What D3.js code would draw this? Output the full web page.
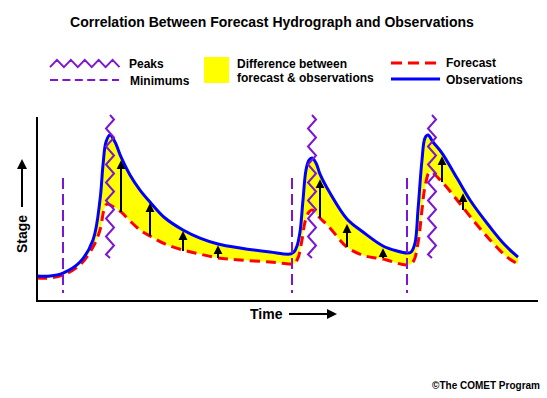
<!DOCTYPE html>
<html><head><meta charset="utf-8">
<script src="https://cdn.jsdelivr.net/npm/d3@7"></script>
<style>body{margin:0;background:#fff}svg{display:block}text{font-family:"Liberation Sans",Arial,sans-serif;font-weight:bold;fill:#000}</style>
</head><body>
<svg id="c" width="547" height="398"></svg>
<script>
// Observations (time, stage)
const obsTime  = [0,2.6,5.2,8.6,11.2,12.6,13.2,13.8,14.6,15.6,16.8,18.6,20.6,22.6,25.6,29.2,32.6,36.2,40.6,46.6,50.6,51.4,52,52.6,53.2,53.8,54.4,55,55.8,56.6,58.6,62,65.2,69.2,72,74,74.8,75.6,76.2,77,77.6,78.2,79.2,81,84,86.6,90.6,93.6,96.2];
const obsStage = [1.36,1.36,1.52,2.12,3.32,5.49,7.39,8.64,9.02,8.64,7.83,6.85,6.03,5.38,4.51,3.86,3.42,3.10,2.88,2.66,2.55,2.66,2.99,3.75,5.49,7.12,7.66,7.77,7.50,6.90,5.87,4.46,3.75,2.99,2.72,2.61,2.66,3.15,4.95,7.66,8.86,9.02,8.64,8.04,6.68,5.49,4.02,3.04,2.39];
// Forecast (time, stage)
const fcTime  = [0,2.6,5.2,8.6,11.2,12.6,13.4,14,15,16.8,18.6,20.6,22.6,25.6,29.2,32.6,36.2,40.6,46.6,50.6,51.4,52.2,53,53.6,54.4,55,56.6,58.6,62,65.6,69.2,74,75.2,76.2,77,77.6,78.6,81,84,87.2,90.6,94,96.2];
const fcStage = [1.25,1.25,1.41,1.96,2.93,3.86,4.95,5.27,5.16,4.84,4.35,3.86,3.53,3.10,2.77,2.55,2.34,2.23,2.12,2.01,2.01,2.34,3.32,4.29,4.84,4.95,4.51,3.97,2.93,2.45,2.28,1.96,2.12,3.15,4.95,6.20,7.01,6.47,5.49,4.40,3.32,2.39,2.01];
// Peaks (zigzag markers) and minimums (dashed markers)
const peakTimes = [14.6, 55, 79];
const peakRange = [2.34, 10.11];
const minTimes = [5.2, 51, 74];
const minRange = [0.43, 6.68];
// Difference arrows
const arrowTime = [16.8, 22.6, 29.2, 36.2, 56.6, 62, 69.2, 81, 85.2];
const arrowFrom = [4.84, 3.53, 2.72, 2.34, 4.51, 2.93, 2.34, 6.47, 4.95];
const arrowTo   = [7.55, 5.22, 3.70, 2.93, 6.52, 4.08, 2.77, 7.77, 5.76];

const svg = d3.select("#c");
const x = d3.scaleLinear().domain([0,100]).range([37,537]);
const y = d3.scaleLinear().domain([0,10]).range([301,117]);
const PURPLE = "#7d16d4";

const defs = svg.append("defs");
defs.append("marker").attr("id","ah").attr("viewBox","0 0 10 10").attr("refX",8).attr("refY",5)
  .attr("markerWidth",4.6).attr("markerHeight",4.6).attr("orient","auto")
  .append("path").attr("d","M0,0L10,5L0,10Z").attr("fill","#000");
defs.append("marker").attr("id","ah2").attr("viewBox","0 0 10 10").attr("refX",8).attr("refY",5)
  .attr("markerWidth",5).attr("markerHeight",5).attr("orient","auto")
  .append("path").attr("d","M0,0L10,5L0,10Z").attr("fill","#000");

// Title
svg.append("text").attr("x",272).attr("y",27).attr("text-anchor","middle").attr("font-size",14)
  .text("Correlation Between Forecast Hydrograph and Observations");

// Legend
function zigH(x0,x1,yc,amp,period){let p=`M${x0},${yc+amp}`;let up=true;for(let xx=x0+period/2;xx<=x1+0.01;xx+=period/2){p+=`L${xx},${yc+(up?-amp:amp)}`;up=!up;}return p;}
function zigV(xc,y0,y1,amp,half){let p=`M${xc},${y0}`;let side=1;for(let yy=y0+half/2;yy<y1;yy+=half){p+=`L${xc+side*amp},${yy}`;side=-side;}p+=`L${xc},${y1}`;return p;}
const lg = svg.append("g");
lg.append("path").attr("d",zigH(50,119.5,63.5,3.6,13.9)).attr("fill","none").attr("stroke",PURPLE).attr("stroke-width",2);
lg.append("text").attr("x",129).attr("y",68).attr("font-size",12).text("Peaks");
lg.append("line").attr("x1",50).attr("x2",119).attr("y1",80).attr("y2",80).attr("stroke",PURPLE).attr("stroke-width",2).attr("stroke-dasharray","8,4.4");
lg.append("text").attr("x",130).attr("y",84.5).attr("font-size",12).text("Minimums");
lg.append("rect").attr("x",204).attr("y",57).attr("width",25).attr("height",26).attr("fill","#ffff00");
lg.append("text").attr("x",237).attr("y",68).attr("font-size",12).text("Difference between");
lg.append("text").attr("x",237).attr("y",81.5).attr("font-size",12).text("forecast & observations");
lg.append("line").attr("x1",391).attr("x2",438).attr("y1",63).attr("y2",63).attr("stroke","#ff0000").attr("stroke-width",3).attr("stroke-dasharray","11,6");
lg.append("text").attr("x",446).attr("y",66.5).attr("font-size",12).text("Forecast");
lg.append("line").attr("x1",391).attr("x2",440).attr("y1",79).attr("y2",79).attr("stroke","#0000ff").attr("stroke-width",3);
lg.append("text").attr("x",446).attr("y",83.5).attr("font-size",12).text("Observations");

// Data
const obs = obsTime.map((t,i)=>[t,obsStage[i]]);
const fc = fcTime.map((t,i)=>[t,fcStage[i]]);
const line = d3.line().x(d=>x(d[0])).y(d=>y(d[1])).curve(d3.curveCatmullRom.alpha(0.5));
const fillPath = line(obs) + "L" + line(fc.slice().reverse()).slice(1) + "Z";
svg.append("path").attr("d",fillPath).attr("fill","#ffff00");

svg.append("path").attr("d",line(fc)).attr("fill","none").attr("stroke","#ff0000").attr("stroke-width",3).attr("stroke-dasharray","10,6");
svg.append("path").attr("d",line(obs)).attr("fill","none").attr("stroke","#0000ff").attr("stroke-width",3);

// arrows
svg.selectAll(".arr").data(arrowTime).join("line").attr("class","arr")
  .attr("x1",d=>x(d)).attr("x2",d=>x(d))
  .attr("y1",(d,i)=>y(arrowFrom[i])).attr("y2",(d,i)=>y(arrowTo[i]))
  .attr("stroke","#000").attr("stroke-width",2).attr("marker-end","url(#ah)");

// peaks
svg.selectAll(".pk").data(peakTimes).join("path").attr("class","pk")
  .attr("d",d=>zigV(x(d),y(peakRange[1]),y(peakRange[0]),4,9))
  .attr("fill","none").attr("stroke",PURPLE).attr("stroke-width",2);
// minimums
svg.selectAll(".mn").data(minTimes).join("line").attr("class","mn")
  .attr("x1",d=>x(d)).attr("x2",d=>x(d)).attr("y1",y(minRange[1])).attr("y2",y(minRange[0]))
  .attr("stroke",PURPLE).attr("stroke-width",2).attr("stroke-dasharray","11,5");

// axes
svg.append("line").attr("x1",37).attr("x2",37).attr("y1",117).attr("y2",302).attr("stroke","#000").attr("stroke-width",2);
svg.append("line").attr("x1",36).attr("x2",538).attr("y1",301).attr("y2",301).attr("stroke","#000").attr("stroke-width",2);

// axis labels
svg.append("text").attr("x",250).attr("y",319).attr("font-size",14).text("Time");
svg.append("line").attr("x1",289).attr("x2",335).attr("y1",314).attr("y2",314).attr("stroke","#000").attr("stroke-width",2).attr("marker-end","url(#ah2)");
svg.append("text").attr("transform","translate(27,253) rotate(-90)").attr("font-size",14).text("Stage");
svg.append("line").attr("x1",22).attr("x2",22).attr("y1",207).attr("y2",161).attr("stroke","#000").attr("stroke-width",2).attr("marker-end","url(#ah2)");

svg.append("text").attr("x",540).attr("y",389).attr("text-anchor","end").attr("font-size",10).text("©The COMET Program");
</script>
</body></html>
